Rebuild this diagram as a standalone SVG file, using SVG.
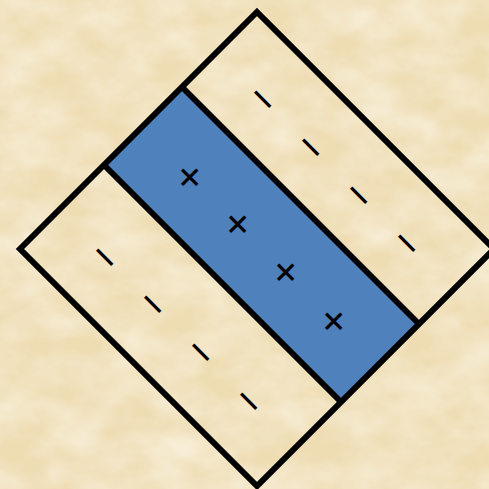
<svg xmlns="http://www.w3.org/2000/svg" width="489" height="489" viewBox="0 0 489 489">
  <style>
    .edge { fill: none; stroke: #000; stroke-width: 6; stroke-linejoin: miter; stroke-miterlimit: 10; }
    .band { fill: #4F81BD; stroke: none; }
    .sign { font-family: "Liberation Sans", Arial, sans-serif; font-size: 44px; fill: #000; text-anchor: middle; }
  </style>
  <defs>
    <filter id="paper" x="0" y="0" width="100%" height="100%" filterUnits="userSpaceOnUse">
      <feTurbulence type="fractalNoise" baseFrequency="0.02 0.03" numOctaves="4" seed="7" result="n"/>
      <feColorMatrix in="n" type="matrix" values="0 0 0 0 0.973  0 0 0 0 0.925  0 0 0 0 0.81  1.1 0 0 0 -0.3"/>
    </filter>
  </defs>

  <g id="background">
    <rect x="0" y="0" width="489" height="489" fill="#EEDCB2"/>
    <rect x="0" y="0" width="489" height="489" filter="url(#paper)"/>
  </g>

  <g id="middle-band">
    <polygon class="band" points="182,87 104,165 341,402 419,324"/>
    <text class="sign" transform="translate(190,177) rotate(45)" y="15">+</text>
    <text class="sign" transform="translate(238,224) rotate(45)" y="15">+</text>
    <text class="sign" transform="translate(286,272) rotate(45)" y="15">+</text>
    <text class="sign" transform="translate(334,321) rotate(45)" y="15">+</text>
  </g>

  <g id="upper-region">
    <text class="sign" transform="translate(263,99) rotate(45)" y="15">−</text>
    <text class="sign" transform="translate(311,147) rotate(45)" y="15">−</text>
    <text class="sign" transform="translate(359,195) rotate(45)" y="15">−</text>
    <text class="sign" transform="translate(407,243) rotate(45)" y="15">−</text>
  </g>

  <g id="lower-region">
    <text class="sign" transform="translate(105,257) rotate(45)" y="15">−</text>
    <text class="sign" transform="translate(153,304) rotate(45)" y="15">−</text>
    <text class="sign" transform="translate(201,352) rotate(45)" y="15">−</text>
    <text class="sign" transform="translate(249,401) rotate(45)" y="15">−</text>
  </g>

  <g id="outline">
    <polygon class="edge" points="257,12 494,249 257,486 20,249"/>
    <line class="edge" x1="182" y1="87" x2="419" y2="324"/>
    <line class="edge" x1="104" y1="165" x2="341" y2="402"/>
  </g>
</svg>
